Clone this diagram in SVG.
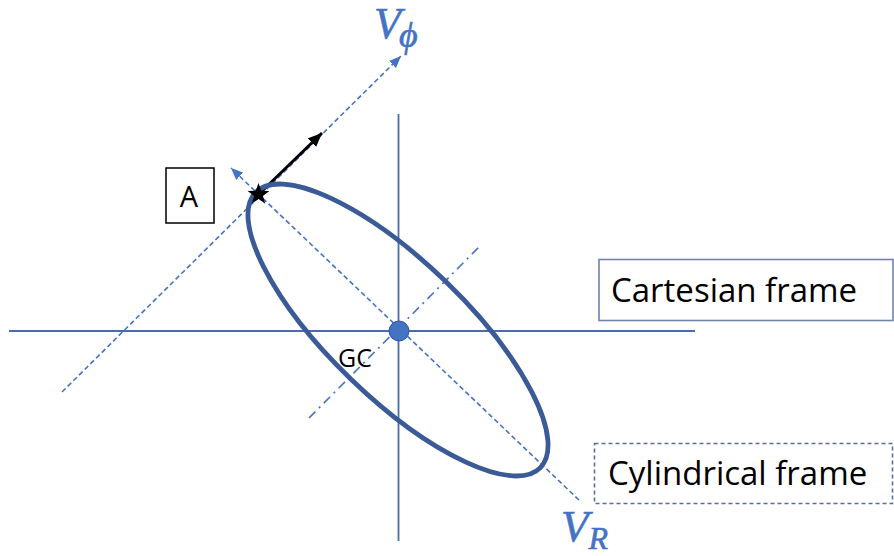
<svg xmlns="http://www.w3.org/2000/svg" width="894" height="556" viewBox="0 0 894 556">
<defs>
<style>
.axis{stroke:#4A6BAE;stroke-width:1.8;fill:none}
.dash{stroke:#4472C4;stroke-width:1.6;fill:none;stroke-dasharray:5 3}
.dashdot{stroke:#4472C4;stroke-width:1.6;fill:none;stroke-dasharray:9 5 2 5}
.lbl{font-family:"Open Sans","Liberation Sans",sans-serif;fill:#000}
.math{font-family:"Liberation Serif","DejaVu Serif",serif;font-style:italic;fill:#4472C4;stroke:#4472C4;stroke-width:0.6}
</style>
<marker id="ab" markerUnits="userSpaceOnUse" markerWidth="14" markerHeight="12" refX="12" refY="6" orient="auto">
<path d="M0,1 L12,6 L0,11 Z" fill="#4472C4"/>
</marker>
<marker id="ak" markerUnits="userSpaceOnUse" markerWidth="15" markerHeight="13" refX="14" refY="6.5" orient="auto">
<path d="M0,0.5 L14,6.5 L0,12.5 Z" fill="#000"/>
</marker>
</defs>
<rect width="894" height="556" fill="#fff"/>
<g id="connectors">
<line class="axis" x1="9" y1="331" x2="695" y2="331"/>
<line class="axis" x1="398.5" y1="114" x2="398.5" y2="541"/>
<line class="dash" x1="62" y1="392" x2="401" y2="56" marker-end="url(#ab)"/>
<line class="dash" x1="579" y1="500" x2="231" y2="168" marker-end="url(#ab)"/>
<line class="dashdot" x1="309" y1="418" x2="479" y2="247"/>
<line x1="258.5" y1="194.5" x2="322" y2="133" stroke="#000" stroke-width="3" marker-end="url(#ak)"/>
</g>
<g id="orbit">
<ellipse cx="398" cy="330" rx="198" ry="68" transform="rotate(44 398 330)" fill="none" stroke="#3A5A98" stroke-width="4.8"/>
</g>
<g id="GC">
<circle cx="399" cy="331" r="10" fill="#4472C4" stroke="#2F5597" stroke-width="1"/>
<text class="lbl" x="338" y="367" font-size="25">GC</text>
</g>
<g id="star">
<path transform="translate(258.5 194.5)" d="M0,-11.5 L2.7,-3.7 L10.9,-3.6 L4.4,1.4 L6.8,9.3 L0,4.6 L-6.8,9.3 L-4.4,1.4 L-10.9,-3.6 L-2.7,-3.7 Z" fill="#000"/>
</g>
<g id="A">
<rect x="166" y="168" width="48" height="55" fill="#fff" stroke="#000" stroke-width="1.5"/>
<text class="lbl" x="189" y="207" font-size="29" text-anchor="middle">A</text>
</g>
<g id="Vphi">
<text class="math" x="374" y="38" font-size="44">V<tspan font-size="36" dx="-2" dy="9">ϕ</tspan></text>
</g>
<g id="VR">
<text class="math" x="561" y="541" font-size="45">V<tspan font-size="32" dy="8">R</tspan></text>
</g>
<g id="cartesian">
<rect x="599" y="259.5" width="294" height="61" fill="#fff" stroke="#6F82B2" stroke-width="1.6"/>
<text class="lbl" x="611" y="302" font-size="33">Cartesian frame</text>
</g>
<g id="cylindrical">
<rect x="594.5" y="443.5" width="298" height="60" fill="#fff" stroke="#5A6E98" stroke-width="1.6" stroke-dasharray="4 3"/>
<text class="lbl" x="608" y="485" font-size="33">Cylindrical frame</text>
</g>
</svg>
